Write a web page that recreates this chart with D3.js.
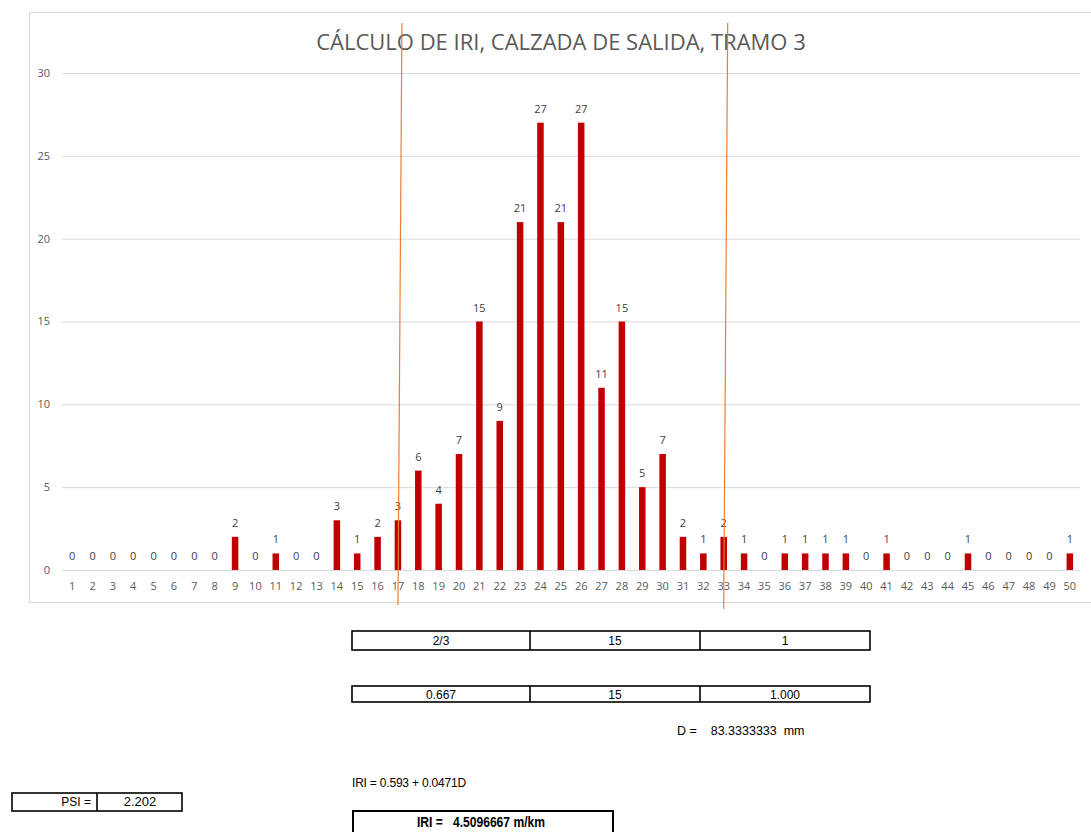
<!DOCTYPE html>
<html>
<head>
<meta charset="utf-8">
<script src="https://cdn.jsdelivr.net/npm/d3@7"></script>
<style>
    body { margin: 0; background: #fff; }
    .tick-label { font-family: "Open Sans", sans-serif; font-size: 11px; fill: #595959; }
    .bar-label { font-family: "Open Sans", sans-serif; font-size: 11px; fill: #404040; }
    .title { font-family: "Open Sans", sans-serif; font-size: 22px; fill: #595959; }
    .cell { font-family: "Liberation Sans", Arial, sans-serif; font-size: 12px; fill: #000; }
</style>
</head>
<body>
<div id="chart"></div>
<script>
const categories = d3.range(1, 51).map(String)
const counts = [0, 0, 0, 0, 0, 0, 0, 0, 2, 0,
    1, 0, 0, 3, 1, 2, 3, 6, 4, 7,
    15, 9, 21, 27, 21, 27, 11, 15, 5, 7,
    2, 1, 2, 1, 0, 1, 1, 1, 1, 0,
    1, 0, 0, 0, 1, 0, 0, 0, 0, 1]
const yTicks = [0, 5, 10, 15, 20, 25, 30]
const markerCats = ["17", "33"]
const table1 = ["2/3", "15", "1"]
const table2 = ["0.667", "15", "1.000"]

const W = 1091, H = 832
const svg = d3.select('#chart').append('svg')
    .attr('width', W)
    .attr('height', H)

//Chart frame
svg.append('rect')
    .attr('x', 29.5).attr('y', 12.5)
    .attr('width', 1080).attr('height', 590)
    .attr('fill', 'none')
    .attr('stroke', '#d9d9d9')

const xScale = d3.scaleBand()
    .domain(categories)
    .range([62, 1080])
    .paddingInner(0.68)
    .paddingOuter(0.34)

const yScale = d3.scaleLinear()
    .domain([0, 30])
    .range([570, 73])

//Draw grid
svg.append('g')
    .attr('transform', 'translate(62,0)')
    .call(d3.axisLeft(yScale).tickValues(yTicks).tickSize(-1018).tickFormat(''))
    .call(g => g.select('.domain').remove())
    .call(g => g.selectAll('line').attr('stroke', '#d9d9d9'))
//End Draw grid

//y axis labels
svg.append('g')
    .selectAll('text')
    .data(yTicks)
    .enter().append('text')
    .attr('class', 'tick-label')
    .attr('x', 50)
    .attr('y', d => yScale(d))
    .attr('dy', '0.35em')
    .attr('text-anchor', 'end')
    .text(d => d)

//x axis labels
svg.append('g')
    .attr('transform', 'translate(0,570)')
    .call(d3.axisBottom(xScale).tickSize(0).tickPadding(12))
    .call(g => g.select('.domain').remove())
    .call(g => g.selectAll('text').attr('class', 'tick-label').attr('font-size', null).attr('font-family', null))

//Top Title
svg.append('text')
    .attr('class', 'title')
    .attr('x', 561)
    .attr('y', 50)
    .attr('text-anchor', 'middle')
    .text('CÁLCULO DE IRI, CALZADA DE SALIDA, TRAMO 3')

//Bars
svg.selectAll('.bar')
    .data(counts)
    .enter().append('rect')
    .attr('class', 'bar')
    .attr('x', (d, i) => xScale(categories[i]))
    .attr('y', d => yScale(d))
    .attr('width', xScale.bandwidth())
    .attr('height', d => yScale(0) - yScale(d))
    .style('fill', '#c00000')

svg.selectAll('.bar-label')
    .data(counts)
    .enter().append('text')
    .attr('class', 'bar-label')
    .attr('x', (d, i) => xScale(categories[i]) + xScale.bandwidth() / 2)
    .attr('y', d => yScale(d) - 10)
    .attr('text-anchor', 'middle')
    .text(d => d)

//Orange marker lines
svg.selectAll('.marker')
    .data(markerCats)
    .enter().append('line')
    .attr('x1', d => xScale(d) + xScale.bandwidth() / 2 + 4)
    .attr('y1', 23)
    .attr('x2', d => xScale(d) + xScale.bandwidth() / 2)
    .attr('y2', (d, i) => i == 0 ? 605 : 609)
    .attr('stroke', '#ed7d31')
    .attr('stroke-width', 1.2)

//Tables
const cols = [352, 530, 700, 870]
function drawRow(vals, y0, y1) {
    const g = svg.append('g')
    g.append('rect')
        .attr('x', cols[0]).attr('y', y0)
        .attr('width', cols[3] - cols[0]).attr('height', y1 - y0)
        .attr('fill', 'none').attr('stroke', '#000').attr('stroke-width', 1.6)
    g.selectAll('line')
        .data([cols[1], cols[2]])
        .enter().append('line')
        .attr('x1', d => d).attr('x2', d => d)
        .attr('y1', y0).attr('y2', y1)
        .attr('stroke', '#000').attr('stroke-width', 1.6)
    g.selectAll('text')
        .data(vals)
        .enter().append('text')
        .attr('class', 'cell')
        .attr('x', (d, i) => (cols[i] + cols[i + 1]) / 2)
        .attr('y', (y0 + y1) / 2 + 4.5)
        .attr('text-anchor', 'middle')
        .text(d => d)
}
drawRow(table1, 631, 650)
drawRow(table2, 686, 702)

svg.append('text')
    .attr('class', 'cell')
    .attr('x', 677).attr('y', 735)
    .attr('xml:space', 'preserve')
    .style('font-size', '12.5px')
    .text('D =    83.3333333  mm')

svg.append('text')
    .attr('class', 'cell')
    .attr('x', 352).attr('y', 787)
    .style('font-size', '12px')
    .style('letter-spacing', '-0.2px')
    .text('IRI = 0.593 + 0.0471D')

//PSI box
svg.append('rect')
    .attr('x', 12).attr('y', 793)
    .attr('width', 170).attr('height', 18)
    .attr('fill', 'none').attr('stroke', '#000').attr('stroke-width', 1.6)
svg.append('line')
    .attr('x1', 97).attr('x2', 97).attr('y1', 793).attr('y2', 811)
    .attr('stroke', '#000').attr('stroke-width', 1.6)
svg.append('text')
    .attr('class', 'cell')
    .attr('x', 91).attr('y', 806)
    .attr('text-anchor', 'end')
    .text('PSI =')
svg.append('text')
    .attr('class', 'cell')
    .attr('x', 140).attr('y', 806)
    .attr('text-anchor', 'middle')
    .style('font-size', '13px')
    .text('2.202')

//IRI box
svg.append('rect')
    .attr('x', 353).attr('y', 811)
    .attr('width', 260).attr('height', 30)
    .attr('fill', 'none').attr('stroke', '#000').attr('stroke-width', 2)
svg.append('text')
    .attr('class', 'cell')
    .attr('x', 417)
    .attr('y', 827)
    .attr('xml:space', 'preserve')
    .attr('textLength', 128)
    .attr('lengthAdjust', 'spacingAndGlyphs')
    .style('font-size', '14.5px')
    .style('font-weight', 'bold')
    .text('IRI =   4.5096667 m/km')
</script>
</body>
</html>
